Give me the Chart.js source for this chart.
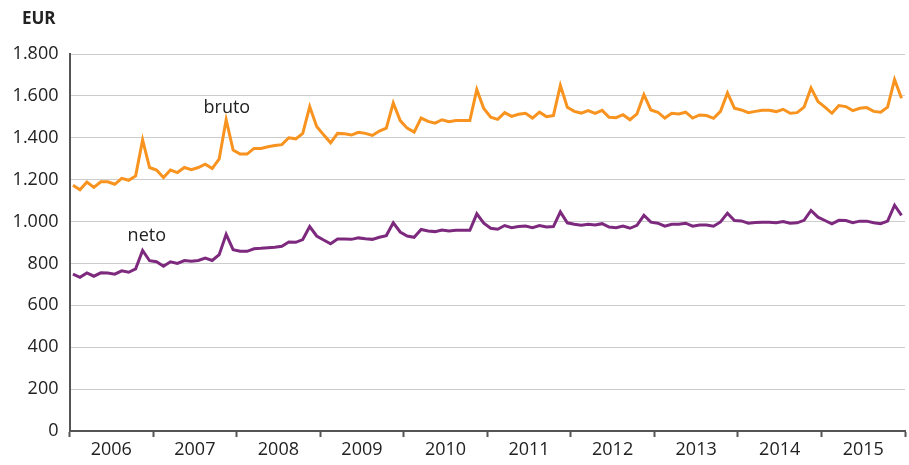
<!DOCTYPE html>
<html>
<head>
<meta charset="utf-8">
<script src="https://cdn.jsdelivr.net/npm/chart.js@4/dist/chart.umd.min.js"></script>
<style>
  html, body { margin: 0; padding: 0; background: #fff; }
  #wrap { width: 909px; height: 465px; }
</style>
</head>
<body>
<div id="wrap"><canvas id="grafico"></canvas></div>
<script>
// años del eje X (12 meses cada uno)
const years = ['2006', '2007', '2008', '2009', '2010', '2011', '2012', '2013', '2014', '2015'];

// salario bruto mensual (EUR), ene 2006 - dic 2015
const bruto = [
  1173, 1152, 1189, 1163, 1190, 1190, 1178, 1206, 1197, 1218, 1390, 1258,
  1246, 1210, 1246, 1234, 1258, 1248, 1258, 1274, 1253, 1299, 1486, 1341,
  1322, 1322, 1349, 1349, 1357, 1363, 1367, 1400, 1395, 1421, 1549, 1454,
  1414, 1376, 1421, 1419, 1413, 1426, 1421, 1411, 1432, 1446, 1566, 1482,
  1446, 1427, 1494, 1478, 1470, 1486, 1477, 1482, 1482, 1482, 1630, 1540,
  1498, 1488, 1520, 1502, 1512, 1517, 1494, 1522, 1501, 1506, 1650, 1546,
  1526, 1518, 1530, 1517, 1531, 1498, 1496, 1510, 1486, 1514, 1606, 1533,
  1522, 1494, 1517, 1514, 1522, 1494, 1509, 1506, 1493, 1526, 1614, 1541,
  1533, 1520, 1526, 1531, 1531, 1525, 1536, 1517, 1520, 1546, 1638, 1573,
  1546, 1517, 1554, 1549, 1530, 1541, 1544, 1526, 1522, 1546, 1678, 1589
];

// salario neto mensual (EUR)
const neto = [
  749, 734, 755, 739, 755, 754, 749, 765, 758, 774, 862, 813,
  808, 787, 808, 800, 814, 810, 814, 826, 814, 842, 939, 866,
  858, 858, 870, 872, 875, 877, 882, 902, 901, 914, 976, 931,
  912, 894, 917, 917, 915, 922, 918, 915, 925, 933, 994, 950,
  931, 925, 962, 955, 952, 960, 955, 958, 958, 958, 1037, 992,
  968, 963, 981, 971, 976, 979, 971, 981, 974, 976, 1046, 994,
  987, 982, 987, 984, 990, 974, 971, 979, 968, 982, 1030, 997,
  992, 978, 987, 987, 992, 978, 984, 984, 978, 998, 1040, 1005,
  1003, 992, 995, 997, 997, 994, 1000, 992, 994, 1006, 1053, 1021,
  1005, 989, 1006, 1005, 995, 1002, 1002, 994, 990, 1002, 1078, 1030
];

const seriesNames = ['bruto', 'neto'];
// donde va el nombre de cada serie (mes, EUR)
const nameAnchorX = [22.6, 11.1];
const nameAnchorY = [1545, 930];

const FONT = "'Open Sans', 'Noto Sans', sans-serif";
const colores = ['#f7931e', '#7d2a7e'];

// separador de miles con punto
function miles(v) {
  if (v < 1000) return String(v);
  return Math.floor(v / 1000) + '.' + String(v % 1000).padStart(3, '0');
}

// cada mes va en el centro de su casilla
function puntos(arr) {
  return arr.map((v, i) => ({ x: i + 0.5, y: v }));
}

// textos "EUR", "bruto" y "neto" dibujados sobre el canvas
const etiquetas = {
  id: 'etiquetas',
  afterDatasetsDraw(chart) {
    const c = chart.ctx;
    const sx = chart.scales.x, sy = chart.scales.y;
    c.save();
    c.fillStyle = '#222';
    c.textBaseline = 'middle';
    c.textAlign = 'left';
    c.font = 'bold 17px ' + FONT;
    c.fillText('EUR', 22, 19);
    c.font = '18px ' + FONT;
    c.textAlign = 'center';
    seriesNames.forEach((n, k) => {
      c.fillText(n, sx.getPixelForValue(nameAnchorX[k]), sy.getPixelForValue(nameAnchorY[k]));
    });
    c.restore();
  }
};

const ctx = document.getElementById('grafico');

let grafica = new Chart(ctx, {
  type: 'line',
  data: {
    datasets: [
      {
        label: seriesNames[0],
        data: puntos(bruto),
        borderColor: colores[0],
        borderWidth: 3,
        pointRadius: 0,
        tension: 0,
        fill: false
      },
      {
        label: seriesNames[1],
        data: puntos(neto),
        borderColor: colores[1],
        borderWidth: 3,
        pointRadius: 0,
        tension: 0,
        fill: false
      }
    ]
  },
  options: {
    responsive: true,
    maintainAspectRatio: false,
    animation: false,
    layout: { padding: { top: 54, right: 4, bottom: 0, left: 0 } },
    plugins: {
      legend: { display: false },
      tooltip: { enabled: false }
    },
    scales: {
      x: {
        type: 'linear',
        min: 0,
        max: 120,
        afterFit(scale) { scale.height = 34; },
        border: { display: true, color: '#555', width: 2 },
        grid: {
          drawOnChartArea: false,
          drawTicks: true,
          tickLength: 6,
          tickColor: '#555',
          tickWidth: 2
        },
        ticks: {
          stepSize: 12,
          autoSkip: false,
          maxRotation: 0,
          labelOffset: 41.8,
          padding: 2,
          color: '#222',
          font: { family: FONT, size: 18 },
          callback: (v) => (v < 120 ? years[v / 12] : '')
        }
      },
      y: {
        min: 0,
        max: 1800,
        afterFit(scale) { scale.width = 69.5; },
        border: { display: true, color: '#555', width: 2 },
        grid: {
          color: '#cccccc',
          lineWidth: 1,
          drawTicks: false
        },
        ticks: {
          stepSize: 200,
          padding: 11,
          color: '#222',
          font: { family: FONT, size: 18 },
          callback: (v) => miles(v)
        }
      }
    }
  },
  plugins: [etiquetas]
});
</script>
</body>
</html>
